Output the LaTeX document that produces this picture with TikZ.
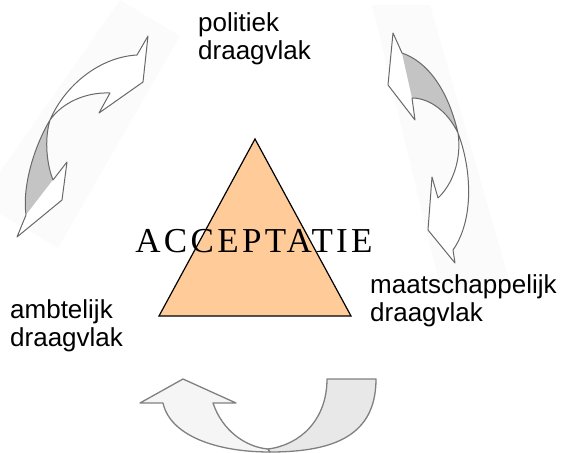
\documentclass[tikz,border=0pt]{standalone}
\usepackage{fontspec}
\newfontfamily\vlakfont{Liberation Sans}
\newfontfamily\titelfont[LetterSpace=9.5]{Liberation Serif}
\usepackage{xcolor}
\definecolor{perzik}{RGB}{255,204,153}
\definecolor{pijlrand}{RGB}{105,105,105}
\definecolor{schaduw}{RGB}{196,196,196}
\usepackage{tikz}
\usetikzlibrary{positioning}

\begin{document}
\begin{tikzpicture}[x=1pt,y=-1pt,
    rand/.style={draw=pijlrand,line width=1pt,line join=round},
    vlak/.style={anchor=north west,inner sep=0pt,align=left,font=\vlakfont\fontsize{26}{28}\selectfont}]
  \useasboundingbox (0,0) rectangle (563,453);
  \fill[black!1.5] (120,0) -- (180,36) -- (58,248) -- (0,214) -- (0,172) -- cycle;
  \fill[black!1.5] (372,5) -- (430,5) -- (510,283) -- (442,295) -- cycle;
  % links
  \fill[white] (50,120) .. controls (65,85) and (100,57) .. (137,55) -- (148,36) -- (143,82) -- (99,113) -- (110,93) .. controls (85,92) and (62,103) .. (50,120) -- cycle;
  \fill[schaduw] (50,120) .. controls (35,145) and (22,185) .. (26,215) -- (53,180) .. controls (47,165) and (44,140) .. (50,120) -- cycle;
  \fill[white] (26,215) -- (53,180) -- (67,162) -- (62,200) -- (17,237) -- cycle;
  \draw[rand] (50,120) .. controls (65,85) and (100,57) .. (137,55) -- (148,36) -- (143,82) -- (99,113) -- (110,93) .. controls (85,92) and (62,103) .. (50,120)
    .. controls (35,145) and (22,185) .. (26,215) -- (17,237) -- (62,200) -- (67,162) -- (53,180) .. controls (47,165) and (44,140) .. (50,120);
  % rechts
  \fill[white] (402,53) -- (393,33) -- (388,85) -- (415,120) -- (412,98) -- cycle;
  \fill[schaduw] (402,53) .. controls (428,62) and (448,90) .. (458,133) .. controls (448,112) and (430,98) .. (412,98) -- cycle;
  \fill[white] (458,133) .. controls (472,170) and (474,220) .. (453,250) -- (455,263) -- (428,230) -- (432,177) -- (438,198) .. controls (452,185) and (462,160) .. (458,133) -- cycle;
  \draw[rand] (402,53) -- (393,33) -- (388,85) -- (415,120) -- (412,98) .. controls (430,98) and (448,112) .. (458,133)
    .. controls (472,170) and (474,220) .. (453,250) -- (455,263) -- (428,230) -- (432,177) -- (438,198)
    .. controls (452,185) and (462,160) .. (458,133) .. controls (448,90) and (428,62) .. (402,53);
  % onder
  \draw[rand,draw=black!50,line width=1.3pt,fill=black!4] (163,403) -- (140,403) -- (183,379) -- (236,403) -- (213,403) .. controls (222,430) and (245,447) .. (268,449) -- (270,452) .. controls (215,452) and (170,435) .. (163,403) -- cycle;
  \draw[rand,draw=black!50,line width=1.3pt,fill=black!9] (327,379) -- (376,379) .. controls (376,435) and (335,452) .. (270,452) -- (268,449) .. controls (300,445) and (327,420) .. (327,379) -- cycle;
  % driehoek
  \coordinate (top) at (255,139);
  \coordinate (rechtsonder) at (351,316);
  \coordinate (linksonder) at (159,316);
  \draw[fill=perzik,line width=1.2pt,line join=miter] (top) -- (rechtsonder) -- (linksonder) -- cycle;
  \node[anchor=base,inner sep=0pt,font=\titelfont\fontsize{35}{38}\selectfont] (acceptatie) at (254,252) {ACCEPTATIE};
  \node[vlak] (politiek) at (198,12.4) {politiek\\draagvlak};
  \node[vlak] (maatschappelijk) at (370,274.4) {maatschappelijk\\draagvlak};
  \node[vlak] (ambtelijk) at (10,299.4) {ambtelijk\\draagvlak};
\end{tikzpicture}
\end{document}
